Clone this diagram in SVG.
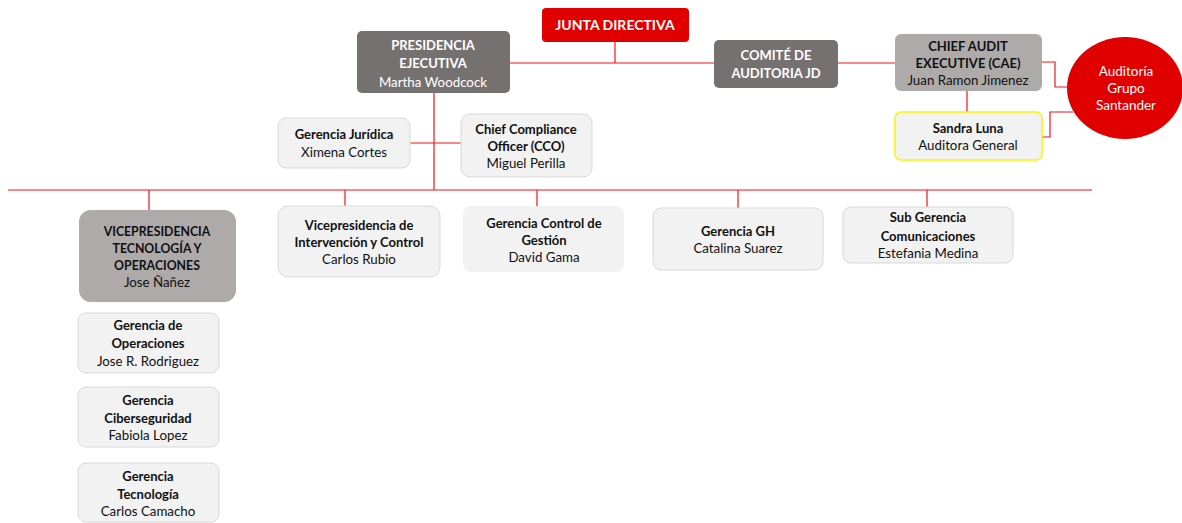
<svg xmlns="http://www.w3.org/2000/svg" width="1182" height="523" viewBox="0 0 1182 523">
<style>
text{font-family:Lato,"Open Sans","Liberation Sans",sans-serif;font-size:13.3px;text-anchor:middle;fill:#111}
.b{font-weight:bold;font-size:13px}
.c{font-weight:bold;font-size:13px}
.w{fill:#fff}
.dark{fill:#767171}
.mid{fill:#AEAAAA}
.light{fill:#F2F2F2;stroke:#d9d9d9;stroke-width:1}
.red{fill:#E00000}
.ln{stroke:#F0141E;stroke-width:1.2;fill:none}
</style>
<rect width="1182" height="523" fill="#fff"/>
<g id="connectors">
<path class="ln" d="M615 42V63M510 63H714M838 63H895"/>
<path class="ln" d="M1042 62H1055V87H1068"/>
<path class="ln" d="M1042 137H1050V112H1073"/>
<path class="ln" d="M967 91V112"/>
<path class="ln" d="M434 93V190M410 143H461"/>
<path class="ln" d="M8 190H1092"/>
<path class="ln" d="M149 190V210M345 190V206M537 190V206M738 190V208M927 190V207"/>
</g>
<g id="junta"><rect class="red" x="542" y="8" width="147" height="34" rx="4"/><text class="c w" x="615" y="30" style="font-size:14px">JUNTA DIRECTIVA</text></g>
<g id="presidencia"><rect class="dark" x="357" y="31" width="153" height="62" rx="5"/><text class="c w" x="433" y="50">PRESIDENCIA</text><text class="c w" x="433" y="68">EJECUTIVA</text><text class="w" x="433" y="87">Martha Woodcock</text></g>
<g id="comite"><rect class="dark" x="714" y="40" width="124" height="48" rx="5"/><text class="c w" x="776" y="60">COMITÉ DE</text><text class="c w" x="776" y="78">AUDITORIA JD</text></g>
<g id="cae"><rect class="mid" x="895" y="34" width="147" height="57" rx="6"/><text class="c" x="968" y="51">CHIEF AUDIT</text><text class="c" x="968" y="68">EXECUTIVE (CAE)</text><text x="968" y="85">Juan Ramon Jimenez</text></g>
<g id="santander"><ellipse class="red" cx="1125" cy="88" rx="58" ry="51"/><text class="w" x="1126" y="76" style="font-size:13.5px">Auditoría</text><text class="w" x="1126" y="93" style="font-size:13.5px">Grupo</text><text class="w" x="1126" y="110" style="font-size:13.5px">Santander</text></g>
<g id="sandra"><rect x="895" y="112" width="147" height="48" rx="6" fill="#F2F2F2" stroke="#FFF200" stroke-width="1.5"/><text class="b" x="968" y="133">Sandra Luna</text><text x="968" y="150">Auditora General</text></g>
<g id="juridica"><rect class="light" x="278" y="118" width="132" height="50" rx="8"/><text class="b" x="344" y="139">Gerencia Jurídica</text><text x="344" y="157">Ximena Cortes</text></g>
<g id="cco"><rect class="light" x="461" y="114" width="131" height="63" rx="9"/><text class="b" x="526" y="134">Chief Compliance</text><text class="b" x="526" y="151">Officer (CCO)</text><text x="526" y="168">Miguel Perilla</text></g>
<g id="vp-tyo"><rect class="mid" x="79" y="210" width="157" height="92" rx="12"/><text class="c" x="157" y="236" style="font-size:12.3px">VICEPRESIDENCIA</text><text class="c" x="157" y="253" style="font-size:12.3px">TECNOLOGÍA Y</text><text class="c" x="157" y="270" style="font-size:12.3px">OPERACIONES</text><text x="157" y="287">Jose Ñañez</text></g>
<g id="vp-intervencion"><rect class="light" x="278" y="206" width="162" height="71" rx="10"/><text class="b" x="359" y="230">Vicepresidencia de</text><text class="b" x="359" y="247">Intervención y Control</text><text x="359" y="264">Carlos Rubio</text></g>
<g id="control-gestion"><rect x="463" y="206" width="161" height="66" rx="8" fill="#F2F2F2"/><text class="b" x="544" y="228">Gerencia Control de</text><text class="b" x="544" y="245">Gestión</text><text x="544" y="262">David Gama</text></g>
<g id="gh"><rect class="light" x="653" y="208" width="170" height="62" rx="8"/><text class="b" x="738" y="236">Gerencia GH</text><text x="738" y="253">Catalina Suarez</text></g>
<g id="comunicaciones"><rect class="light" x="843" y="207" width="170" height="56" rx="8"/><text class="b" x="928" y="222">Sub Gerencia</text><text class="b" x="928" y="241">Comunicaciones</text><text x="928" y="258">Estefania Medina</text></g>
<g id="operaciones"><rect class="light" x="78" y="313" width="141" height="60" rx="8"/><text class="b" x="148" y="330">Gerencia de</text><text class="b" x="148" y="348">Operaciones</text><text x="148" y="366">Jose R. Rodriguez</text></g>
<g id="ciberseguridad"><rect class="light" x="78" y="387" width="141" height="60" rx="8"/><text class="b" x="148" y="405">Gerencia</text><text class="b" x="148" y="423">Ciberseguridad</text><text x="148" y="440">Fabiola Lopez</text></g>
<g id="tecnologia"><rect class="light" x="78" y="463" width="141" height="59" rx="8"/><text class="b" x="148" y="481">Gerencia</text><text class="b" x="148" y="499">Tecnología</text><text x="148" y="516">Carlos Camacho</text></g>
</svg>
